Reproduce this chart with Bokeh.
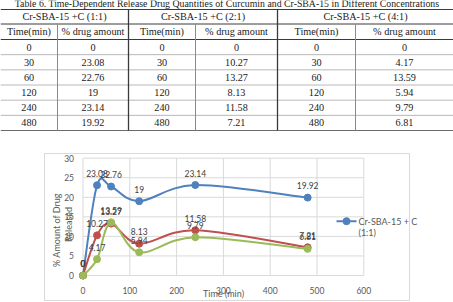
import numpy as np
from bokeh.plotting import figure
from bokeh.models import Range1d
from bokeh.core.properties import value
from bokeh.embed import file_html
from bokeh.resources import INLINE

# Release data: time points (min) and % drug amount for each Cr-SBA-15 + C ratio
times = [0, 30, 60, 120, 240, 480]
release_1_1 = [0, 23.08, 22.76, 19, 23.14, 19.92]
release_2_1 = [0, 10.27, 13.27, 8.13, 11.58, 7.21]
release_4_1 = [0, 4.17, 13.59, 5.94, 9.79, 6.81]

table_title = ("Table 6. Time-Dependent Release Drug Quantities of Curcumin "
               "and Cr-SBA-15 in Different Concentrations")
group_names = ["Cr-SBA-15 +C (1:1)", "Cr-SBA-15 +C (2:1)", "Cr-SBA-15 +C (4:1)"]
column_names = ["Time(min)", "% drug amount"]

x_ticks = [0, 100, 200, 300, 400, 500, 600]
y_ticks = [0, 5, 10, 15, 20, 25, 30]
x_title = "Time (min)"
y_title = ["% Amount of Drug", "Released"]
legend_lines = ["Cr-SBA-15 + C", "(1:1)"]

BLUE, RED, GREEN = "#4f81bd", "#c0504d", "#9bbb59"
GRID = "#d9d9d9"
AXIS_TEXT = "#595959"


def fmt(v):
    return f"{v:g}"


# ------------------------------------------------------------ page geometry
W, H = 453, 302
PLOT_L, PLOT_R, PLOT_T, PLOT_B = 82.5, 363.3, 157.7, 275.0   # chart plot area, px
X_MAX, Y_MAX = 600, 30
SX = (PLOT_R - PLOT_L) / X_MAX
SY = (PLOT_B - PLOT_T) / Y_MAX


def px(x):
    """Horizontal page pixel -> chart x units."""
    return (np.asarray(x, float) - PLOT_L) / SX


def py(y):
    """Vertical page pixel (from top) -> chart y units."""
    return (PLOT_B - np.asarray(y, float)) / SY


p = figure(width=W, height=H, x_range=Range1d(px(0), px(W)), y_range=Range1d(py(H), py(0)),
           output_backend="svg", toolbar_location=None, min_border=0, title=None,
           x_axis_location=None, y_axis_location=None, outline_line_color=None)
p.grid.visible = False

# ------------------------------------------------------------ table
serif = value("Liberation Serif")
group_edges = [0, 128, 277, W]
inner_splits = [57, 195, 355]
top_line, head1_bottom, head2_bottom = 9, 23.5, 39
row_h = 15.17
n_rows = len(times)
table_bottom = head2_bottom + n_rows * row_h


def hrule(ys, color, width=1.0):
    ys = list(ys)
    p.segment(x0=[px(0)] * len(ys), x1=[px(W)] * len(ys), y0=py(ys), y1=py(ys),
              line_color=color, line_width=width)


def vrule(xs, y_top, y_bot, color, width=1.0):
    xs = list(xs)
    p.segment(x0=px(xs), x1=px(xs), y0=[py(y_top)] * len(xs), y1=[py(y_bot)] * len(xs),
              line_color=color, line_width=width)


hrule([top_line, head1_bottom, head2_bottom], "#3a3a3a")
hrule([head2_bottom + k * row_h for k in range(1, n_rows)], "#b8b8b8")
hrule([table_bottom], "#6a6a6a")
vrule(group_edges[1:3], top_line, table_bottom, "#3a3a3a", 1.3)
vrule(inner_splits, head1_bottom, table_bottom, "#8a8a8a")

# caption sits partly above the page edge
p.text(x=[px(W / 2)], y=[py(2.5)], text=[table_title], text_font=serif, text_font_size="9.8px",
       text_align="center", text_baseline="alphabetic", text_color="#222222")

tx, ty, tt = [], [], []
for g, series in enumerate([release_1_1, release_2_1, release_4_1]):
    left, right = group_edges[g], group_edges[g + 1]
    split = inner_splits[g]
    c_time, c_val = (left + split) / 2, (split + right) / 2
    tx.append((left + right) / 2); ty.append((top_line + head1_bottom) / 2); tt.append(group_names[g])
    tx += [c_time, c_val]; ty += [(head1_bottom + head2_bottom) / 2] * 2; tt += column_names
    for k, (t, v) in enumerate(zip(times, series)):
        yc = head2_bottom + (k + 0.5) * row_h
        tx += [c_time, c_val]; ty += [yc, yc]; tt += [fmt(t), fmt(v)]

p.text(x=px(tx), y=py(ty), text=tt, text_font=serif, text_font_size="10.2px",
       text_align="center", text_baseline="middle", text_color="#1a1a1a")

# ------------------------------------------------------------ chart
# chart area border
p.quad(left=[px(44)], right=[px(409)], top=[py(153)], bottom=[py(300)],
       fill_color=None, line_color=GRID, line_width=1)

# gridlines
p.segment(x0=x_ticks, x1=x_ticks, y0=[0] * len(x_ticks), y1=[Y_MAX] * len(x_ticks),
          line_color=GRID, line_width=1)
p.segment(x0=[0] * len(y_ticks), x1=[X_MAX] * len(y_ticks), y0=y_ticks, y1=y_ticks,
          line_color=GRID, line_width=1)

# tick labels
sans = value("Lato")
p.text(x=x_ticks, y=[py(289.5)] * len(x_ticks), text=[str(t) for t in x_ticks],
       text_font=sans, text_font_size="8.5px", text_color=AXIS_TEXT,
       text_align="center", text_baseline="middle")
p.text(x=[px(73.5)] * len(y_ticks), y=y_ticks, text=[str(t) for t in y_ticks],
       text_font=sans, text_font_size="8.5px", text_color=AXIS_TEXT,
       text_align="right", text_baseline="middle")

# axis titles
p.text(x=[px(223)], y=[py(293)], text=[x_title], text_font=sans, text_font_size="9px",
       text_color=AXIS_TEXT, text_align="center", text_baseline="middle")
p.text(x=px([56, 68]), y=py([229.5, 224]), text=y_title, angle=np.pi / 2,
       text_font=sans, text_font_size="9px", text_color=AXIS_TEXT,
       text_align="center", text_baseline="middle")


def smooth_segments(xs, ys):
    """Cubic Bezier pieces through the points (Catmull-Rom style control points)."""
    x = np.asarray(xs, float)
    y = np.asarray(ys, float)
    n = len(x)
    xp = np.concatenate([[x[0]], x, [x[-1]]])
    yp = np.concatenate([[y[0]], y, [y[-1]]])
    cx0 = x[:-1] + (xp[2:n + 1] - xp[0:n - 1]) / 6
    cy0 = y[:-1] + (yp[2:n + 1] - yp[0:n - 1]) / 6
    cx1 = x[1:] - (xp[3:n + 2] - xp[1:n]) / 6
    cy1 = y[1:] - (yp[3:n + 2] - yp[1:n]) / 6
    return dict(x0=x[:-1], y0=y[:-1], x1=x[1:], y1=y[1:], cx0=cx0, cy0=cy0, cx1=cx1, cy1=cy1)


series = [(release_1_1, BLUE), (release_2_1, RED), (release_4_1, GREEN)]
for vals, color in series:
    p.bezier(line_color=color, line_width=2, **smooth_segments(times, vals))
    p.scatter(times, vals, size=7, fill_color=color, line_color=color)

for vals, color in series:
    p.text(x=times, y=vals, text=[fmt(v) for v in vals], y_offset=-12,
           text_font=sans, text_font_size="8.5px", text_color="#404040",
           text_align="center", text_baseline="middle")

# legend: first series only
p.segment(x0=[px(336)], x1=[px(356)], y0=[py(220.7)], y1=[py(220.7)],
          line_color=BLUE, line_width=2)
p.scatter(x=[px(346)], y=[py(220.7)], size=7, fill_color=BLUE, line_color=BLUE)
p.text(x=[px(358)] * 2, y=py([220.7, 231.7]), text=legend_lines, text_font=sans,
       text_font_size="9px", text_color=AXIS_TEXT, text_align="left", text_baseline="middle")

open("out.html", "w").write(file_html(p, INLINE))
